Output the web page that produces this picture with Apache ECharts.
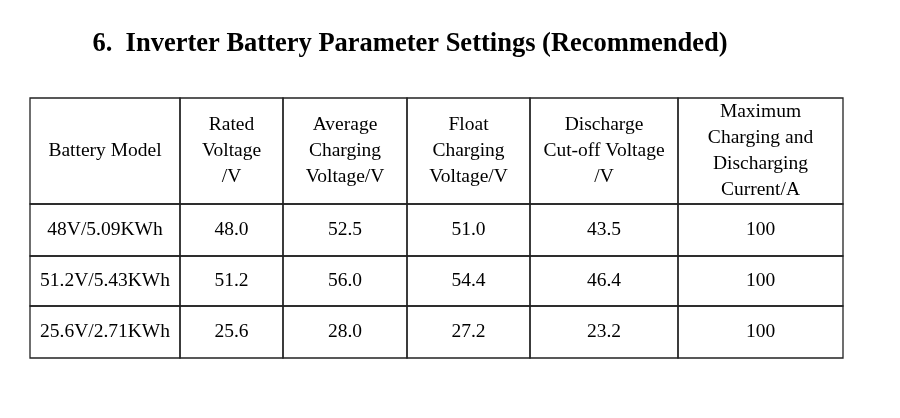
<!DOCTYPE html>
<html><head><meta charset="utf-8">
<script src="https://cdn.jsdelivr.net/npm/echarts@6/dist/echarts.min.js"></script>
<style>html,body{margin:0;background:#fff}#c{width:900px;height:418px}</style>
</head><body><div id="c"></div>
<script>
const colEdges = [0,150,253,377,500,648,813];
const rowEdges = [0,106,158,208,260];
const headers = ["Battery Model","Rated\nVoltage\n/V","Average\nCharging\nVoltage/V","Float\nCharging\nVoltage/V","Discharge\nCut-off Voltage\n/V","Maximum\nCharging and\nDischarging\nCurrent/A"];
const models = ["48V/5.09KWh","51.2V/5.43KWh","25.6V/2.71KWh"];
const rated = ["48.0","51.2","25.6"];
const avgCharge = ["52.5","56.0","28.0"];
const floatCharge = ["51.0","54.4","27.2"];
const cutoff = ["43.5","46.4","23.2"];
const maxCurrent = ["100","100","100"];

const rows = [headers];
for (let i=0;i<models.length;i++) rows.push([models[i],rated[i],avgCharge[i],floatCharge[i],cutoff[i],maxCurrent[i]]);
const cells = [];
rows.forEach((r,ri)=>r.forEach((t,ci)=>cells.push([colEdges[ci],colEdges[ci+1],rowEdges[ri],rowEdges[ri+1],t])));

const chart = echarts.init(document.getElementById('c'));
chart.setOption({
  animation:false,
  title:{text:"6.  Inverter Battery Parameter Settings (Recommended)",left:405,textAlign:'center',top:26,
    textStyle:{fontFamily:'Liberation Serif',fontWeight:'bold',fontSize:26.5,color:'#000'}},
  grid:{left:30,top:98,width:813,height:260},
  xAxis:{type:'value',min:0,max:813,show:false},
  yAxis:{type:'value',min:0,max:260,inverse:true,show:false},
  series:[{type:'custom',data:cells,renderItem:(p,api)=>{
    const a=api.coord([api.value(0),api.value(2)]), b=api.coord([api.value(1),api.value(3)]);
    return {type:'group',children:[
      {type:'rect',shape:{x:a[0],y:a[1],width:b[0]-a[0],height:b[1]-a[1]},style:{fill:'none',stroke:'#222',lineWidth:1.3}},
      {type:'text',style:{text:cells[p.dataIndex][4],x:(a[0]+b[0])/2,y:(a[1]+b[1])/2,align:'center',verticalAlign:'middle',
        font:'19.5px "Liberation Serif"',lineHeight:26,fill:'#000'}}
    ]};
  }}]
});
</script></body></html>
